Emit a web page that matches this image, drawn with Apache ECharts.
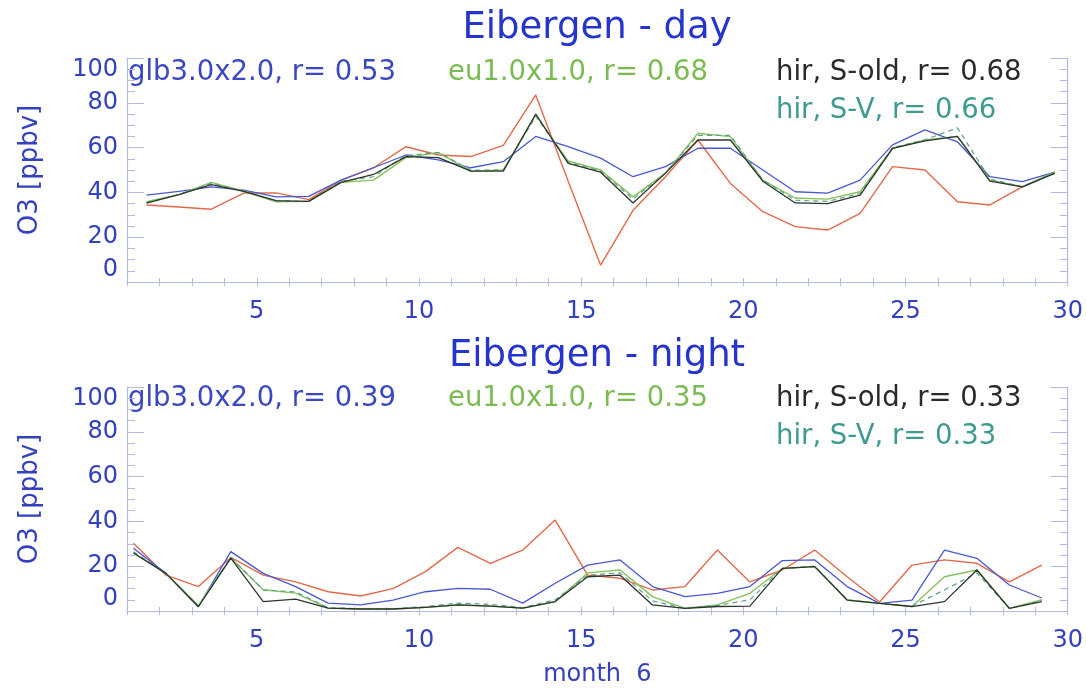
<!DOCTYPE html>
<html>
<head>
<meta charset="utf-8">
<script src="https://cdn.jsdelivr.net/npm/echarts@6/dist/echarts.min.js"></script>
<style>
html,body{margin:0;padding:0;background:#fff;}
#chart{width:1086px;height:691px;}
</style>
</head>
<body>
<div id="chart"></div>
<script>
// ---------------- data ----------------
const days = [1,2,3,4,5,6,7,8,9,10,11,12,13,14,15,16,17,18,19,20,21,22,23,24,25,26,27,28,29];
const dayFraction = 0.6;    // daytime sample within the day
const nightFraction = 0.2;  // night-time sample within the day
const xTickValues = [5,10,15,20,25,30];
const yTickValues = [0,20,40,60,80,100];

// Eibergen - day
const dayObs   = [34.4,33.5,32.5,39.7,39.8,36.8,45.5,51,60.4,56.7,56,61,83.5,45,7.5,32,47,63.4,44,31.4,24.7,23.2,30.6,51.5,50,35.8,34.4,42.5,49];
const dayGlb   = [38.8,40.5,42.5,41,38,38.2,45.5,51,56.7,54.5,51,53.7,65,60.4,55.3,47,51.5,59.7,59.7,50,40.3,39.7,45.5,61.2,67.9,62.6,47,44.8,49];
const dayEu    = [35.8,39,44.5,40.5,35.8,36,44.5,45.5,55.5,57.8,49.5,50,74.5,54,50,38,48.6,66.4,64.9,45.5,37.5,37,40.3,59.7,63.4,65,45.5,42.5,49];
const dayHirOld= [35.2,39,43.5,40.5,36.3,36,44.5,48,56,55.5,49.5,49.5,75,53,49,35.3,48.6,63.4,63.4,45,35.3,35,38.8,59.7,63,65,45,42.5,48.5];
const dayHirSV = [35.5,39,44,40.5,36,36,45,47,56.5,57.8,50,50,74,53.5,49.5,37,48.6,65.5,65.5,45.5,36.5,36,39.5,60,63.5,68.8,46,42.5,48.8];

// Eibergen - night
const nightObs   = [30.2,16,10.9,23.9,16,13,8.6,6.7,10,17.6,28.4,21.3,27.2,40.6,16,14.6,9.4,10.9,27.2,13,18.3,27.2,15.3,4,20.5,22.8,21.3,13,20.5];
const nightGlb   = [28,16.8,1.9,26.5,16.8,10.9,3.5,2.7,4.9,8.6,10.1,9.7,3.5,12.4,20.5,22.8,10.9,6.4,7.9,10.9,22.5,22.8,10.9,3.4,4.9,27.2,23.5,11.6,5.8];
const nightEu    = [25.9,16.8,2.5,23.6,9.5,8,1.3,0.9,0.9,1.6,2.7,2.2,1.3,4.2,17,18.3,6.4,1.2,2.7,7.9,19,19.8,4.9,3.4,2,15.3,18.3,1.2,5];
const nightHirOld= [25.9,16.8,1.9,23.6,4.2,5.3,1.3,0.9,0.9,1.6,2.7,2.2,1.3,4.2,15.3,16,2.7,1.2,2,2.2,19,19.8,4.9,3.4,2,4.2,18.3,1.2,4.2];
const nightHirSV = [26.5,16.8,2.2,24,9.4,8.5,1.5,1,1,2,3.5,3,1.5,5,16,17,4.5,1.2,2.5,5,19,20,5,3.4,2.2,9.4,17,1.2,4.5];

const titles = ['Eibergen - day','Eibergen - night'];
const modelNames = ['glb3.0x2.0','eu1.0x1.0','hir, S-old','hir, S-V'];
const dayR = ['0.53','0.68','0.68','0.66'];
const nightR = ['0.39','0.35','0.33','0.33'];
const yName = 'O3 [ppbv]';
const xName = 'month  6';

// ---------------- styles ----------------
const FONT = 'DejaVu Sans';
const BLUE_TXT = '#3340c0';
const TITLE_BLUE = '#2634cf';
const AXIS_COL = '#b4b9e6';
const colObs = '#e26a4a', colGlb = '#4a58d0', colEu = '#86c25a', colOld = '#2c352c', colSV = '#5a9f90';
const labelCols = ['#3a48c4','#7cbb52','#2a2a2a','#3f9a90'];

const grids = [
  {left:127, top:58, width:941, height:224},
  {left:127, top:387, width:941, height:224}
];

function xAxes(gi){
  const base = {
    type:'value', gridIndex:gi, min:1, max:30, interval:1,
    axisLine:{show:true, lineStyle:{color:AXIS_COL, width:1.2}},
    axisTick:{show:true, inside:true, length:4, lineStyle:{color:AXIS_COL}},
    splitLine:{show:false}
  };
  const bottom = Object.assign({}, base, {
    position:'bottom',
    axisLabel:{show:true, margin:18, fontFamily:FONT, fontSize:24, color:BLUE_TXT,
      formatter: v => xTickValues.indexOf(v) >= 0 ? String(v) : ''}
  });
  if (gi === 1) {
    Object.assign(bottom, {name:xName, nameLocation:'middle', nameGap:52,
      nameTextStyle:{fontFamily:FONT, fontSize:24, color:BLUE_TXT}});
  }
  const top = Object.assign({}, base, {position:'top', axisLabel:{show:false}});
  return [bottom, top];
}
function yAxes(gi){
  const base = {
    type:'value', gridIndex:gi, min:0, max:100, interval:20,
    axisLine:{show:true, lineStyle:{color:AXIS_COL, width:1.2}},
    axisTick:{show:true, inside:true, length:17, lineStyle:{color:AXIS_COL}},
    minorTick:{show:true, splitNumber:4, length:8, lineStyle:{color:AXIS_COL}},
    splitLine:{show:false}
  };
  const left = Object.assign({}, base, {
    position:'left',
    name:yName, nameLocation:'middle', nameGap:84, nameRotate:90,
    nameTextStyle:{fontFamily:FONT, fontSize:26, color:BLUE_TXT},
    axisLabel:{show:true, margin:9, fontFamily:FONT, fontSize:24, color:BLUE_TXT,
      verticalAlignMinLabel:'bottom', verticalAlignMaxLabel:'top',
      formatter: v => yTickValues.indexOf(v) >= 0 ? String(v) : ''}
  });
  const right = Object.assign({}, base, {position:'right', axisLabel:{show:false}});
  return [left, right];
}

function pts(vals, frac){ return days.map((d,i) => [d + frac, vals[i]]); }

function makeSeries(gi, frac, obs, glb, eu, old, sv){
  const xi = gi*2, yi = gi*2;
  const mk = (name, vals, color, dashed, w) => ({
    type:'line', name:name, xAxisIndex:xi, yAxisIndex:yi, data:pts(vals, frac),
    showSymbol:false, symbol:'none', silent:true, animation:false,
    lineStyle:{color:color, width:w||1.3, type: dashed ? [5,4] : 'solid'}
  });
  return [
    mk('obs', obs, colObs, false, 1.4),
    mk(modelNames[0], glb, colGlb, false, 1.3),
    mk(modelNames[1], eu, colEu, false, 1.4),
    mk(modelNames[3], sv, colSV, true, 1.2),
    mk(modelNames[2], old, colOld, false, 1.3)
  ];
}

const graphics = [];
function addText(x, y, text, color, size, align){
  graphics.push({type:'text', x:x, y:y, silent:true,
    style:{text:text, fill:color, font: size + 'px "' + FONT + '"', textAlign:align||'left', textVerticalAlign:'middle'}});
}
addText(597, 28, titles[0], TITLE_BLUE, 37, 'center');
addText(597, 356, titles[1], TITLE_BLUE, 37, 'center');

const legendX = [128, 448, 776, 776];
const legendDy = [0, 0, 0, 38];
[[73, dayR],[399, nightR]].forEach(([y0, rs]) => {
  modelNames.forEach((n,i) => {
    addText(legendX[i], y0 + legendDy[i], n + ', r= ' + rs[i], labelCols[i], 27.5, 'left');
  });
});

const option = {
  animation:false,
  backgroundColor:'#ffffff',
  grid: grids,
  xAxis: [].concat(xAxes(0), xAxes(1)),
  yAxis: [].concat(yAxes(0), yAxes(1)),
  series: [].concat(
    makeSeries(0, dayFraction, dayObs, dayGlb, dayEu, dayHirOld, dayHirSV),
    makeSeries(1, nightFraction, nightObs, nightGlb, nightEu, nightHirOld, nightHirSV)
  ),
  graphic: graphics
};

const chart = echarts.init(document.getElementById('chart'), null, {renderer:'canvas'});
chart.setOption(option);
</script>
</body>
</html>
